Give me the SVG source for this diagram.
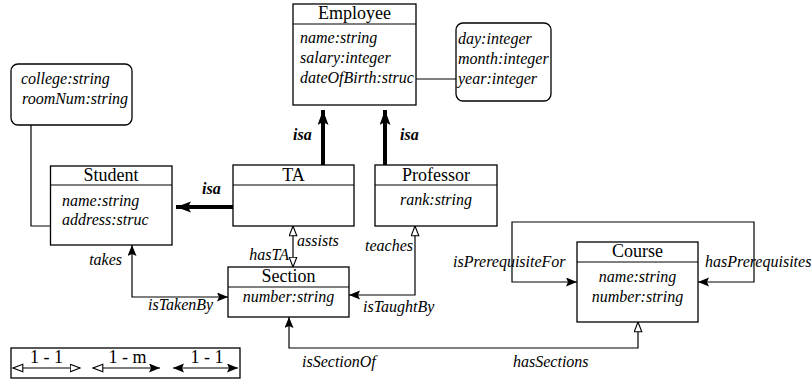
<svg xmlns="http://www.w3.org/2000/svg" width="812" height="385" viewBox="0 0 812 385" font-family="'Liberation Serif','DejaVu Serif',serif">
<style>
.box{fill:#fff;stroke:#000;stroke-width:1.3}
.ln{fill:none;stroke:#000;stroke-width:1.2}
.thick{fill:none;stroke:#000;stroke-width:4}
text{fill:#000}
.t{font-size:18px}
.a{font-size:16px;font-style:italic}
.isa{font-size:16px;font-style:italic;font-weight:bold}
.m{text-anchor:middle}
.e{text-anchor:end}
</style>
<defs>
<marker id="fill" markerUnits="userSpaceOnUse" markerWidth="12" markerHeight="10" refX="11" refY="4.5" orient="auto-start-reverse">
<path d="M0,0 L11,4.5 L0,9 L2,4.5 z" fill="#000"/>
</marker>
<marker id="open" markerUnits="userSpaceOnUse" markerWidth="12" markerHeight="10" refX="10.5" refY="4.5" orient="auto-start-reverse">
<path d="M0.7,0.7 L10.5,4.5 L0.7,8.3 z" fill="#fff" stroke="#000" stroke-width="1.1"/>
</marker>
<marker id="big" markerUnits="userSpaceOnUse" markerWidth="16" markerHeight="12" refX="15" refY="5.5" orient="auto">
<path d="M0,0 L15,5.5 L0,11 L3,5.5 z" fill="#000"/>
</marker>
</defs>

<g id="connectors">
<path class="thick" d="M323,165 L323,110" marker-end="url(#big)"/>
<path class="thick" d="M385,165 L385,110" marker-end="url(#big)"/>
<path class="thick" d="M233,207 L176,207" marker-end="url(#big)"/>
<path class="ln" d="M416,79 L456,79"/>
<path class="ln" d="M31,125 L31,226 L50,226"/>
<path class="ln" d="M293,226 L293,267" marker-start="url(#open)" marker-end="url(#open)"/>
<path class="ln" d="M415,226 L415,295 L349,295" marker-start="url(#open)" marker-end="url(#fill)"/>
<path class="ln" d="M132,245 L132,297 L228,297" marker-start="url(#fill)" marker-end="url(#fill)"/>
<path class="ln" d="M289,317 L289,348 L638,348 L638,322" marker-start="url(#fill)" marker-end="url(#open)"/>
<path class="ln" d="M577,282 L512,282 L512,222 L754,222 L754,282 L698,282" marker-start="url(#fill)" marker-end="url(#fill)"/>
<text class="isa" x="293" y="140">isa</text>
<text class="isa" x="400" y="140">isa</text>
<text class="isa" x="202" y="194">isa</text>
<text class="a e" x="122" y="265">takes</text>
<text class="a" x="148" y="310">isTakenBy</text>
<text class="a e" x="289" y="260">hasTA</text>
<text class="a" x="297" y="246">assists</text>
<text class="a e" x="413" y="251">teaches</text>
<text class="a" x="363" y="312">isTaughtBy</text>
<text class="a" x="453" y="267">isPrerequisiteFor</text>
<text class="a" x="705" y="267">hasPrerequisites</text>
<text class="a" x="302" y="367">isSectionOf</text>
<text class="a" x="513" y="367">hasSections</text>
</g>

<g id="employee">
<rect class="box" x="293" y="4" width="123" height="101"/>
<path class="ln" d="M293,24 L416,24"/>
<text class="t m" x="354.5" y="19">Employee</text>
<text class="a" x="300" y="43">name:string</text>
<text class="a" x="300" y="63">salary:integer</text>
<text class="a" x="300" y="83">dateOfBirth:struc</text>
</g>

<g id="date">
<rect class="box" x="456" y="23" width="95" height="78" rx="7"/>
<text class="a" x="458" y="44">day:integer</text>
<text class="a" x="458" y="64">month:integer</text>
<text class="a" x="458" y="84">year:integer</text>
</g>

<g id="college">
<rect class="box" x="11" y="64" width="121" height="61" rx="7"/>
<text class="a" x="21" y="84">college:string</text>
<text class="a" x="22" y="104">roomNum:string</text>
</g>

<g id="student">
<rect class="box" x="50.5" y="166" width="121.5" height="79"/>
<path class="ln" d="M50.5,185 L172,185"/>
<text class="t m" x="111" y="181">Student</text>
<text class="a" x="62" y="206">name:string</text>
<text class="a" x="62" y="225">address:struc</text>
</g>

<g id="ta">
<rect class="box" x="233" y="165" width="121" height="61"/>
<path class="ln" d="M233,185 L354,185"/>
<text class="t m" x="293.5" y="181">TA</text>
</g>

<g id="professor">
<rect class="box" x="375" y="165" width="122" height="61"/>
<path class="ln" d="M375,185 L497,185"/>
<text class="t m" x="436" y="181">Professor</text>
<text class="a m" x="436" y="205">rank:string</text>
</g>

<g id="section">
<rect class="box" x="228" y="267" width="121" height="50"/>
<path class="ln" d="M228,287 L349,287"/>
<text class="t m" x="288.5" y="282">Section</text>
<text class="a m" x="288.5" y="302">number:string</text>
</g>

<g id="course">
<rect class="box" x="577" y="242" width="121" height="80"/>
<path class="ln" d="M577,262 L698,262"/>
<text class="t m" x="637.5" y="257">Course</text>
<text class="a m" x="637.5" y="282">name:string</text>
<text class="a m" x="637.5" y="302">number:string</text>
</g>

<g id="legend">
<rect class="box" x="11" y="348" width="229" height="30"/>
<path class="ln" d="M13,368 L80,368" marker-start="url(#open)" marker-end="url(#open)"/>
<path class="ln" d="M93,368 L160,368" marker-start="url(#open)" marker-end="url(#fill)"/>
<path class="ln" d="M173,368 L238,368" marker-start="url(#fill)" marker-end="url(#fill)"/>
<text class="t m" x="46.5" y="363">1 - 1</text>
<text class="t m" x="127.5" y="363">1 - m</text>
<text class="t m" x="207" y="363">1 - 1</text>
</g>
</svg>
